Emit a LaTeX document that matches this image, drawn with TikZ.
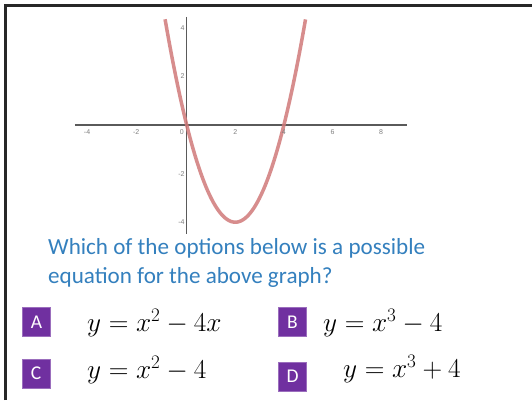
\documentclass[tikz,border=0pt]{standalone}
\usepackage{fix-cm}
\usepackage{fontspec}
\setmainfont{Carlito}
\newfontfamily\tickfont{Liberation Sans}
\definecolor{qblue}{RGB}{52,128,190}
\definecolor{optpurple}{RGB}{112,48,160}
\definecolor{curvered}{RGB}{208,122,122}
\definecolor{axisgray}{RGB}{90,90,90}
\definecolor{framegray}{RGB}{40,40,40}
\tikzset{
  ticklbl/.style={font=\tickfont\fontsize{7}{8}\selectfont, text=gray, inner sep=0pt},
  optbox/.style={fill=optpurple, draw=optpurple!70, minimum width=28pt, minimum height=29pt, inner sep=0pt, text=white, font=\fontsize{19.5}{20}\selectfont},
  eqn/.style={anchor=base west, inner sep=0pt, font=\fontsize{27.3}{30}\selectfont},
  question/.style={anchor=base west, inner sep=0pt, text=qblue, align=left, font=\fontsize{23.1}{29}\selectfont}
}
\begin{document}
\begin{tikzpicture}[x=1pt,y=-1pt]
\useasboundingbox (0,0) rectangle (532,400);
\fill[white] (0,0) rectangle (532,400);
% frame (top and left only)
\coordinate (fbl) at (5,400);
\coordinate (ftl) at (5,5);
\coordinate (ftr) at (532,5);
\draw[framegray, line width=3pt] (fbl) -- (ftl) -- (ftr);
% graph
\begin{scope}[shift={(186.7,125)}, x=24.3pt, y=24.3pt]
  \coordinate (xl) at (-4.6,0);
  \coordinate (xr) at (9.06,0);
  \coordinate (yt) at (0,4.45);
  \coordinate (yb) at (0,-4.5);
  \draw[axisgray, line width=1.3pt] (xl) -- (xr);
  \draw[axisgray, line width=1.3pt] (yt) -- (yb);
  \draw[curvered, opacity=0.85, line width=3.5pt, domain=-0.89:4.89, samples=80, smooth] plot (\x, {\x*\x-4*\x});
  \node[ticklbl] (tm4) at (-4.1,-0.28) {-4};
  \node[ticklbl] (tm2) at (-2.08,-0.28) {-2};
  \node[ticklbl] (t0) at (-0.2,-0.28) {0};
  \node[ticklbl] (t2) at (2,-0.28) {2};
  \node[ticklbl] (t4) at (4,-0.28) {4};
  \node[ticklbl] (t6) at (6,-0.28) {6};
  \node[ticklbl] (t8) at (8,-0.28) {8};
  \node[ticklbl, anchor=east] (ty4) at (-0.08,4) {4};
  \node[ticklbl, anchor=east] (ty2) at (-0.08,2) {2};
  \node[ticklbl, anchor=east] (tym2) at (-0.08,-2) {-2};
  \node[ticklbl, anchor=east] (tym4) at (-0.08,-4) {-4};
\end{scope}
% question
\node[question] (q1) at (48,254) {Which of the options below is a possible};
\node[question] (q2) at (48,283) {equation for the above graph?};
% options
\node[optbox] (boxA) at (36.5,322) {A};
\node[optbox] (boxB) at (292.5,322) {B};
\node[optbox] (boxC) at (36,373.5) {C};
\node[optbox] (boxD) at (292.5,376.5) {D};
\node[eqn] (eqA) at (87,331.5) {$y = x^2 - 4x$};
\node[eqn] (eqB) at (323,331.5) {$y = x^3 - 4$};
\node[eqn] (eqC) at (87,378) {$y = x^2 - 4$};
\node[eqn] (eqD) at (343,377) {$y = x^3 + 4$};
\end{tikzpicture}
\end{document}
